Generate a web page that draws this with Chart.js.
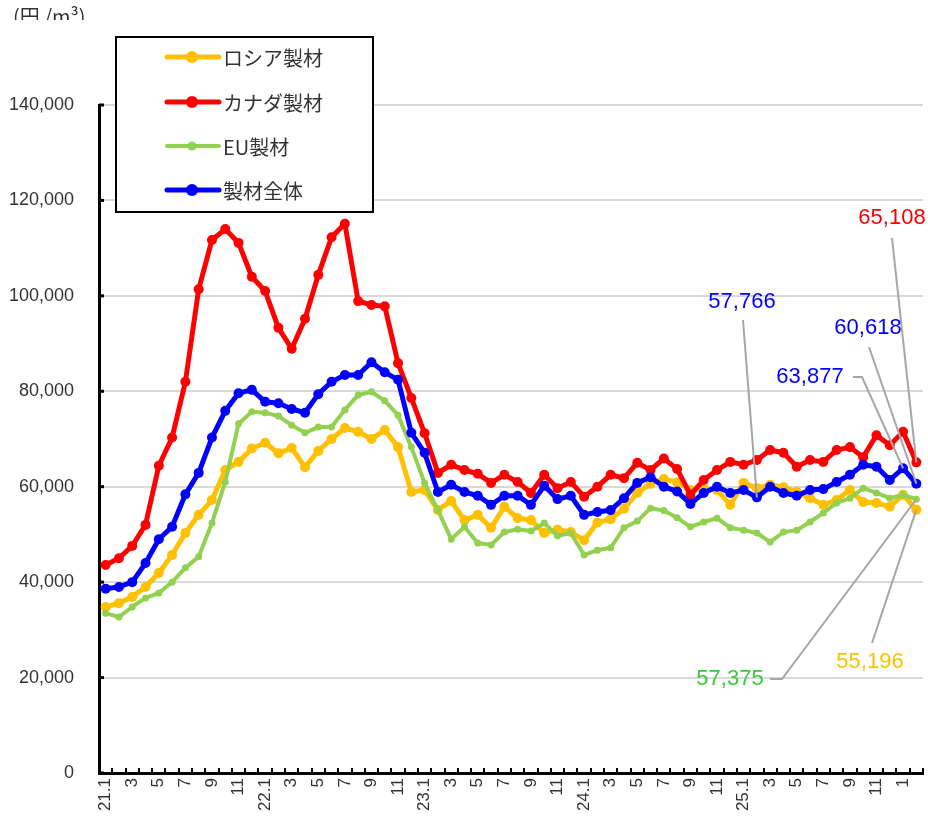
<!DOCTYPE html>
<html>
<head>
<meta charset="utf-8">
<script src="https://cdn.jsdelivr.net/npm/chart.js@4.4.1/dist/chart.umd.min.js"></script>
<style>
  body{margin:0;background:#fff;}
  #wrap{width:928px;height:823px;position:relative;}
</style>
</head>
<body>
<div id="wrap"><canvas id="priceChart"></canvas></div>
<script>

// ==========================
// Data (円/m3, monthly 21.1 - 26.2)
// ==========================

const months=[
    "21.1","","3","","5","","7","","9","","11","",
    "22.1","","3","","5","","7","","9","","11","",
    "23.1","","3","","5","","7","","9","","11","",
    "24.1","","3","","5","","7","","9","","11","",
    "25.1","","3","","5","","7","","9","","11","",
    "1",""
];

const russia=[
    34800,35600,36900,39000,41900,45700,50300,54100,57200,63500,65200,68000,
    69200,67000,68100,64100,67500,70000,72300,71500,70000,71900,68300,58900,
    59300,55100,57000,53000,54100,51400,55800,53400,53000,50300,51000,50500,
    48800,52500,53200,55400,58700,60600,61600,60900,59300,59600,59300,56200,
    60800,59700,60400,59900,58900,57600,56200,57200,59300,56800,56600,55800,
    58300,55196
];

const canada=[
    43600,45000,47600,52000,64400,70300,82000,101400,111700,114000,111100,104000,
    101000,93300,88900,95200,104400,112300,115100,98900,98100,97800,85900,78600,
    71200,62900,64600,63500,62700,60800,62500,61000,58700,62500,59700,61000,
    57900,60000,62500,61800,65000,63500,65900,63700,58300,61400,63500,65200,
    64600,65600,67700,67100,64200,65600,65200,67700,68300,66200,70800,68700,
    71500,65108
];

const eu=[
    33500,32700,34800,36700,37700,40000,43000,45300,52400,61000,73200,75700,
    75500,74800,72900,71300,72500,72500,76100,79200,79900,78000,75000,68300,
    60800,55100,49000,51600,48200,47800,50500,51100,50700,52400,49700,50300,
    45700,46700,47200,51400,52800,55500,55000,53500,51600,52600,53400,51400,
    50900,50300,48400,50500,50900,52600,54500,56600,57600,59700,58700,57600,
    58300,57375
];

const total=[
    38600,39000,40000,44000,49000,51600,58400,62900,70300,75900,79600,80300,
    77800,77500,76300,75500,79400,82000,83400,83400,86100,84000,82400,71300,
    67100,58900,60400,58900,58100,56200,58100,58100,56200,60200,57400,58100,
    54100,54700,55100,57600,60800,62000,60000,59000,56400,58700,60000,58700,
    59300,57766,60000,58700,58100,59300,59500,61000,62500,64600,64200,61400,
    63877,60618
];

const yTicks=[0,20000,40000,60000,80000,100000,120000,140000];

// callouts: dataset index, point index, label centre, elbow points of the leader
const callouts=[
    {ds:1,idx:61,tx:892,ty:218,path:[[892,238]]},
    {ds:3,idx:49,tx:742,ty:302,path:[[743,320]]},
    {ds:3,idx:61,tx:868,ty:328,path:[[869,347]]},
    {ds:3,idx:60,tx:810,ty:377,path:[[853,377],[862,377]]},
    {ds:2,idx:61,tx:730,ty:679,path:[[770,679],[782,679]]},
    {ds:0,idx:61,tx:870,ty:662,path:[[872,643]]}
];

const labelColors=["#FFC000","#FF0000","#33CC33","#0000FF"];

document.addEventListener("DOMContentLoaded",()=>{

    // ==========================
    // Overlay: inner ticks, legend, unit, callouts
    // ==========================

    const overlay={
        id:"overlay",
        afterDraw(chart){
            const ctx=chart.ctx;
            const area=chart.chartArea;
            const xs=chart.scales.x;
            const ys=chart.scales.y;

            ctx.save();

            // x ticks (inside)
            ctx.strokeStyle="#000";
            ctx.lineWidth=2;
            const half=(xs.getPixelForValue(1)-xs.getPixelForValue(0))/2;
            for(let i=0;i<=months.length;i++){
                const px=Math.round((i<months.length?xs.getPixelForValue(i)-half:xs.getPixelForValue(i-1)+half));
                ctx.beginPath();
                ctx.moveTo(px,area.bottom);
                ctx.lineTo(px,area.bottom-5);
                ctx.stroke();
            }

            // y ticks (inside)
            ctx.lineWidth=3;
            yTicks.forEach(v=>{
                const py=ys.getPixelForValue(v);
                ctx.beginPath();
                ctx.moveTo(area.left,py);
                ctx.lineTo(area.left+5,py);
                ctx.stroke();
            });

            // unit (bottom part cut like the source image)
            ctx.save();
            ctx.beginPath();
            ctx.rect(0,0,200,20);
            ctx.clip();
            ctx.fillStyle="#333";
            ctx.font="20px 'Noto Sans CJK JP'";
            ctx.textAlign="left";
            ctx.textBaseline="top";
            ctx.fillText("(円 /m³)",13,6);
            ctx.restore();

            // legend box
            ctx.fillStyle="#fff";
            ctx.fillRect(116,37,257,175);
            ctx.strokeStyle="#000";
            ctx.lineWidth=2;
            ctx.strokeRect(116,37,257,175);

            const rows=[57,102,146,190];
            chart.data.datasets.forEach((ds,i)=>{
                const ry=rows[i];
                ctx.strokeStyle=ds.borderColor;
                ctx.lineWidth=ds.borderWidth;
                ctx.lineCap="round";
                ctx.beginPath();
                ctx.moveTo(167,ry);
                ctx.lineTo(219,ry);
                ctx.stroke();
                ctx.fillStyle=ds.borderColor;
                ctx.beginPath();
                ctx.arc(192,ry,ds.pointRadius+1,0,Math.PI*2);
                ctx.fill();
                ctx.fillStyle="#333";
                ctx.font="20px 'Noto Sans CJK JP'";
                ctx.textAlign="left";
                ctx.textBaseline="middle";
                ctx.fillText(ds.label,223,ry+1);
            });

            // callouts
            ctx.lineCap="butt";
            callouts.forEach(c=>{
                const pt=chart.getDatasetMeta(c.ds).data[c.idx];
                const val=chart.data.datasets[c.ds].data[c.idx];
                ctx.strokeStyle="#A6A6A6";
                ctx.lineWidth=2;
                ctx.beginPath();
                ctx.moveTo(c.path[0][0],c.path[0][1]);
                c.path.slice(1).forEach(p=>ctx.lineTo(p[0],p[1]));
                ctx.lineTo(pt.x,pt.y);
                ctx.stroke();
                ctx.fillStyle=labelColors[c.ds];
                ctx.font="22px 'Liberation Sans'";
                ctx.textAlign="center";
                ctx.textBaseline="middle";
                ctx.fillText(val.toLocaleString("en-US"),c.tx,c.ty);
            });

            ctx.restore();
        }
    };

    // ==========================
    // Price Chart
    // ==========================

    const chart=document.getElementById("priceChart");

    new Chart(chart,{

        type:"line",

        data:{

            labels:months,

            datasets:[
                {
                    label:"ロシア製材",
                    data:russia,
                    borderColor:"#FFC000",
                    backgroundColor:"#FFC000",
                    borderWidth:5,
                    pointRadius:5,
                    pointBorderWidth:0,
                    pointBackgroundColor:"#FFC000",
                    order:4
                },
                {
                    label:"カナダ製材",
                    data:canada,
                    borderColor:"#FF0000",
                    backgroundColor:"#FF0000",
                    borderWidth:5,
                    pointRadius:5,
                    pointBorderWidth:0,
                    pointBackgroundColor:"#FF0000",
                    order:3
                },
                {
                    label:"EU製材",
                    data:eu,
                    borderColor:"#92D050",
                    backgroundColor:"#92D050",
                    borderWidth:4,
                    pointRadius:3.5,
                    pointBorderWidth:0,
                    pointBackgroundColor:"#92D050",
                    order:2
                },
                {
                    label:"製材全体",
                    data:total,
                    borderColor:"#0000FF",
                    backgroundColor:"#0000FF",
                    borderWidth:5,
                    pointRadius:5,
                    pointBorderWidth:0,
                    pointBackgroundColor:"#0000FF",
                    order:1
                }
            ]

        },

        options:{

            responsive:true,
            maintainAspectRatio:false,
            animation:false,

            layout:{
                padding:{top:105,right:5,left:0,bottom:0}
            },

            plugins:{
                legend:{display:false},
                tooltip:{enabled:false}
            },

            elements:{
                line:{tension:0}
            },

            scales:{

                x:{
                    offset:true,
                    afterFit(scale){
                        scale.height=50;
                        scale.paddingLeft=0;
                        scale.paddingRight=0;
                    },
                    grid:{display:false,drawTicks:false},
                    border:{display:true,color:"#000",width:3},
                    ticks:{
                        autoSkip:false,
                        maxRotation:90,
                        minRotation:90,
                        padding:5,
                        color:"#333",
                        font:{family:"Liberation Sans",size:17}
                    }
                },

                y:{
                    min:0,
                    max:140000,
                    afterFit(scale){scale.width=99;},
                    grid:{color:"#D9D9D9",lineWidth:2,drawTicks:false},
                    border:{display:true,color:"#000",width:3},
                    ticks:{
                        stepSize:20000,
                        padding:25,
                        color:"#333",
                        font:{family:"Liberation Sans",size:18},
                        callback:v=>v.toLocaleString("en-US")
                    }
                }

            }

        },

        plugins:[overlay]

    });

});
</script>
</body>
</html>
